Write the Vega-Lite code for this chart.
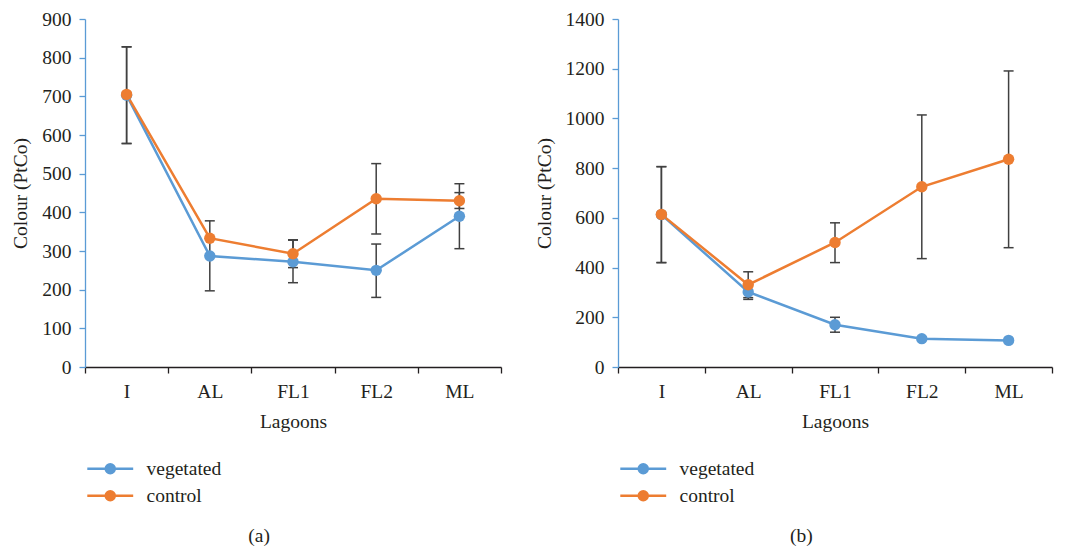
{
  "$schema": "https://vega.github.io/schema/vega-lite/v6.json",
  "background": "white",
  "padding": {"left": 10, "top": 9, "right": 10, "bottom": 5},
  "config": {
    "font": "Liberation Serif",
    "view": {"stroke": null},
    "axis": {
      "labelFont": "Liberation Serif",
      "titleFont": "Liberation Serif",
      "labelFontSize": 19.5,
      "titleFontSize": 19.5,
      "labelColor": "#231f20",
      "titleColor": "#231f20",
      "titleFontWeight": "normal",
      "labelOverlap": false,
      "grid": false
    },
    "legend": {
      "labelFont": "Liberation Serif",
      "labelFontSize": 19.5,
      "labelColor": "#231f20"
    },
    "title": {
      "font": "Liberation Serif",
      "fontSize": 19.5,
      "fontWeight": "normal",
      "color": "#231f20"
    }
  },
  "datasets": {
    "a": [
      {"lagoon": "I", "series": "vegetated", "value": 703, "lower": 578, "upper": 828},
      {"lagoon": "AL", "series": "vegetated", "value": 287, "lower": 197, "upper": 378},
      {"lagoon": "FL1", "series": "vegetated", "value": 272, "lower": 218, "upper": 328},
      {"lagoon": "FL2", "series": "vegetated", "value": 250, "lower": 180, "upper": 318},
      {"lagoon": "ML", "series": "vegetated", "value": 390, "lower": 306, "upper": 474},
      {"lagoon": "I", "series": "control", "value": 705, "lower": 578, "upper": 828},
      {"lagoon": "AL", "series": "control", "value": 333, "lower": null, "upper": null},
      {"lagoon": "FL1", "series": "control", "value": 293, "lower": 257, "upper": 329},
      {"lagoon": "FL2", "series": "control", "value": 435, "lower": 344, "upper": 526},
      {"lagoon": "ML", "series": "control", "value": 430, "lower": 410, "upper": 451}
    ],
    "b": [
      {"lagoon": "I", "series": "vegetated", "value": 613, "lower": 420, "upper": 806},
      {"lagoon": "AL", "series": "vegetated", "value": 302, "lower": 272, "upper": 332},
      {"lagoon": "FL1", "series": "vegetated", "value": 170, "lower": 140, "upper": 200},
      {"lagoon": "FL2", "series": "vegetated", "value": 114, "lower": null, "upper": null},
      {"lagoon": "ML", "series": "vegetated", "value": 107, "lower": null, "upper": null},
      {"lagoon": "I", "series": "control", "value": 614, "lower": 420, "upper": 806},
      {"lagoon": "AL", "series": "control", "value": 331, "lower": 279, "upper": 383},
      {"lagoon": "FL1", "series": "control", "value": 501, "lower": 420, "upper": 580},
      {"lagoon": "FL2", "series": "control", "value": 725, "lower": 436, "upper": 1014},
      {"lagoon": "ML", "series": "control", "value": 836, "lower": 480, "upper": 1191}
    ]
  },
  "spacing": 32,
  "resolve": {"scale": {"color": "independent", "x": "independent", "y": "independent"}},
  "hconcat": [
    {
      "width": 416,
      "height": 348,
      "title": {"text": "(a)", "orient": "bottom", "anchor": "middle", "frame": "bounds", "offset": 21, "dx": 3},
      "data": {"name": "a"},
      "encoding": {
        "x": {
          "field": "lagoon", "type": "nominal", "sort": ["I", "AL", "FL1", "FL2", "ML"],
          "scale": {"type": "band", "paddingInner": 0, "paddingOuter": 0},
          "axis": {"title": "Lagoons", "labelAngle": 0, "tickBand": "extent", "domainColor": "#231f20", "tickColor": "#231f20", "tickSize": 6, "domainWidth": 1.3, "tickWidth": 1.3, "labelPadding": 9, "titlePadding": 12}
        }
      },
      "layer": [
        {
          "transform": [{"filter": "isValid(datum.lower)"}],
          "mark": {"type": "rule", "color": "#404040", "strokeWidth": 1.5},
          "encoding": {
            "y": {"field": "lower", "type": "quantitative", "scale": {"domain": [0, 900], "nice": false},
              "axis": {"title": "Colour (PtCo)", "format": "d", "values": [0, 100, 200, 300, 400, 500, 600, 700, 800, 900], "tickCount": 10, "labelOverlap": false, "domainColor": "#5B9BD5", "tickColor": "#5B9BD5", "tickSize": 6, "domainWidth": 1.3, "tickWidth": 1.3, "labelPadding": 8, "titlePadding": 11}},
            "y2": {"field": "upper"}
          }
        },
        {
          "transform": [{"filter": "isValid(datum.lower)"}],
          "mark": {"type": "tick", "color": "#404040", "thickness": 1.5, "size": 10, "opacity": 1},
          "encoding": {"y": {"field": "lower", "type": "quantitative",
              "axis": {"title": "Colour (PtCo)", "format": "d", "values": [0, 100, 200, 300, 400, 500, 600, 700, 800, 900], "tickCount": 10, "labelOverlap": false, "domainColor": "#5B9BD5", "tickColor": "#5B9BD5", "tickSize": 6, "domainWidth": 1.3, "tickWidth": 1.3, "labelPadding": 8, "titlePadding": 11}}}
        },
        {
          "transform": [{"filter": "isValid(datum.lower)"}],
          "mark": {"type": "tick", "color": "#404040", "thickness": 1.5, "size": 10, "opacity": 1},
          "encoding": {"y": {"field": "upper", "type": "quantitative",
              "axis": {"title": "Colour (PtCo)", "format": "d", "values": [0, 100, 200, 300, 400, 500, 600, 700, 800, 900], "tickCount": 10, "labelOverlap": false, "domainColor": "#5B9BD5", "tickColor": "#5B9BD5", "tickSize": 6, "domainWidth": 1.3, "tickWidth": 1.3, "labelPadding": 8, "titlePadding": 11}}}
        },
        {
          "mark": {"type": "line", "strokeWidth": 2.5},
          "encoding": {
            "y": {"field": "value", "type": "quantitative",
              "axis": {"title": "Colour (PtCo)", "format": "d", "values": [0, 100, 200, 300, 400, 500, 600, 700, 800, 900], "tickCount": 10, "labelOverlap": false, "domainColor": "#5B9BD5", "tickColor": "#5B9BD5", "tickSize": 6, "domainWidth": 1.3, "tickWidth": 1.3, "labelPadding": 8, "titlePadding": 11}},
            "color": {"field": "series", "type": "nominal", "scale": {"domain": ["vegetated", "control"], "range": ["#5B9BD5", "#ED7D31"]},
              "legend": {"orient": "none", "legendX": 15.5, "legendY": 440, "title": null, "padding": 0,
                "symbolType": "M-5.1,0H5.1M1,0A1,1 0 1,1 -1,0A1,1 0 1,1 1,0Z", "symbolSize": 81, "symbolStrokeWidth": 2.5,
                "labelOffset": 26.5, "rowPadding": 6,
                "encode": {"symbols": {"update": {
                  "fill": {"signal": "datum.value === 'vegetated' ? '#5B9BD5' : '#ED7D31'"},
                  "stroke": {"signal": "datum.value === 'vegetated' ? '#5B9BD5' : '#ED7D31'"},
                  "opacity": {"value": 1}}}}}}
          }
        },
        {
          "mark": {"type": "point", "filled": true, "size": 130, "opacity": 1},
          "encoding": {
            "y": {"field": "value", "type": "quantitative",
              "axis": {"title": "Colour (PtCo)", "format": "d", "values": [0, 100, 200, 300, 400, 500, 600, 700, 800, 900], "tickCount": 10, "labelOverlap": false, "domainColor": "#5B9BD5", "tickColor": "#5B9BD5", "tickSize": 6, "domainWidth": 1.3, "tickWidth": 1.3, "labelPadding": 8, "titlePadding": 11}},
            "color": {"field": "series", "type": "nominal"}
          }
        }
      ]
    },
    {
      "width": 434,
      "height": 348,
      "title": {"text": "(b)", "orient": "bottom", "anchor": "middle", "frame": "bounds", "offset": 21, "dx": 8},
      "data": {"name": "b"},
      "encoding": {
        "x": {
          "field": "lagoon", "type": "nominal", "sort": ["I", "AL", "FL1", "FL2", "ML"],
          "scale": {"type": "band", "paddingInner": 0, "paddingOuter": 0},
          "axis": {"title": "Lagoons", "labelAngle": 0, "tickBand": "extent", "domainColor": "#231f20", "tickColor": "#231f20", "tickSize": 6, "domainWidth": 1.3, "tickWidth": 1.3, "labelPadding": 9, "titlePadding": 12}
        }
      },
      "layer": [
        {
          "transform": [{"filter": "isValid(datum.lower)"}],
          "mark": {"type": "rule", "color": "#404040", "strokeWidth": 1.5},
          "encoding": {
            "y": {"field": "lower", "type": "quantitative", "scale": {"domain": [0, 1400], "nice": false},
              "axis": {"title": "Colour (PtCo)", "format": "d", "values": [0, 200, 400, 600, 800, 1000, 1200, 1400], "labelOverlap": false, "domainColor": "#5B9BD5", "tickColor": "#5B9BD5", "tickSize": 6, "domainWidth": 1.3, "tickWidth": 1.3, "labelPadding": 8, "titlePadding": 11}},
            "y2": {"field": "upper"}
          }
        },
        {
          "transform": [{"filter": "isValid(datum.lower)"}],
          "mark": {"type": "tick", "color": "#404040", "thickness": 1.5, "size": 10, "opacity": 1},
          "encoding": {"y": {"field": "lower", "type": "quantitative"}}
        },
        {
          "transform": [{"filter": "isValid(datum.lower)"}],
          "mark": {"type": "tick", "color": "#404040", "thickness": 1.5, "size": 10, "opacity": 1},
          "encoding": {"y": {"field": "upper", "type": "quantitative"}}
        },
        {
          "mark": {"type": "line", "strokeWidth": 2.5},
          "encoding": {
            "y": {"field": "value", "type": "quantitative"},
            "color": {"field": "series", "type": "nominal", "scale": {"domain": ["vegetated", "control"], "range": ["#5B9BD5", "#ED7D31"]},
              "legend": {"orient": "none", "legendX": 15.5, "legendY": 440, "title": null, "padding": 0,
                "symbolType": "M-5.1,0H5.1M1,0A1,1 0 1,1 -1,0A1,1 0 1,1 1,0Z", "symbolSize": 81, "symbolStrokeWidth": 2.5,
                "labelOffset": 26.5, "rowPadding": 6,
                "encode": {"symbols": {"update": {
                  "fill": {"signal": "datum.value === 'vegetated' ? '#5B9BD5' : '#ED7D31'"},
                  "stroke": {"signal": "datum.value === 'vegetated' ? '#5B9BD5' : '#ED7D31'"},
                  "opacity": {"value": 1}}}}}}
          }
        },
        {
          "mark": {"type": "point", "filled": true, "size": 130, "opacity": 1},
          "encoding": {
            "y": {"field": "value", "type": "quantitative"},
            "color": {"field": "series", "type": "nominal"}
          }
        }
      ]
    }
  ]
}
